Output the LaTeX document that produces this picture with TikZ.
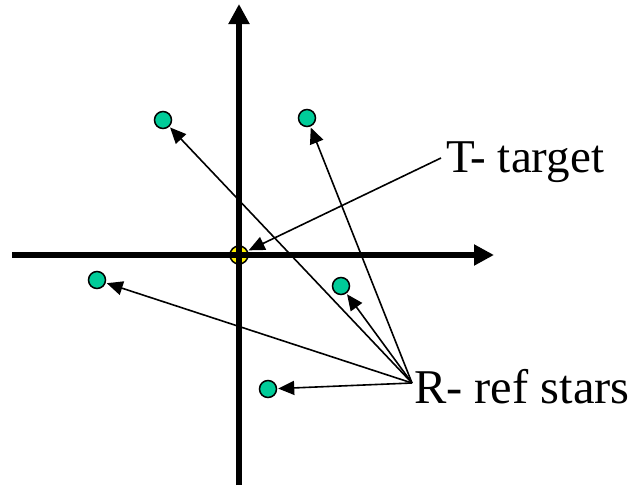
\documentclass[tikz,border=0pt]{standalone}
\usepackage{fontspec}
\setmainfont{Liberation Serif}
\usetikzlibrary{arrows.meta}
\begin{document}
\begin{tikzpicture}[x=1pt,y=-1pt,
  axis/.style={line width=5.5pt,-{Triangle[length=20pt,width=20pt]}},
  ray/.style={line width=1.6pt,-{Triangle[length=16pt,width=14pt]},shorten >=1pt},
  star/.style={circle,draw=black,line width=1.5pt,minimum size=17pt,inner sep=0pt},
  tgt/.style={circle,draw=black,line width=1.5pt,fill=yellow,minimum size=18pt,inner sep=0pt},
  lbl/.style={inner sep=0pt,anchor=west}]
\useasboundingbox (0,0) rectangle (635,485);
\definecolor{stargreen}{RGB}{0,204,153}
\tikzset{star/.append style={fill=stargreen}}
\coordinate (ybot) at (239,485);
\coordinate (ytop) at (239,4);
\coordinate (xl) at (12,255);
\coordinate (xr) at (494,255);
\node[tgt] (T) at (239,255) {};
\draw[axis] (ybot) -- (ytop);
\draw[axis] (xl) -- (xr);
\node[star] (s1) at (163,120) {};
\node[star] (s2) at (307,118) {};
\node[star] (s3) at (97,280) {};
\node[star] (s4) at (341,286) {};
\node[star] (s5) at (268,389) {};
\node[lbl,font=\fontsize{47}{54}\selectfont] (tl) at (446,162) {T- target};
\node[lbl,font=\fontsize{48.5}{56}\selectfont] (rl) at (414,387) {R- ref stars};
\coordinate (R) at (412,383);
\coordinate (Tc) at (441,158);
\draw[ray] (Tc) -- (T);
\draw[ray] (R) -- (s1);
\draw[ray] (R) -- (s2);
\draw[ray] (R) -- (s3);
\draw[ray] (R) -- (s4);
\draw[ray] (R) -- (s5);
\end{tikzpicture}
\end{document}
